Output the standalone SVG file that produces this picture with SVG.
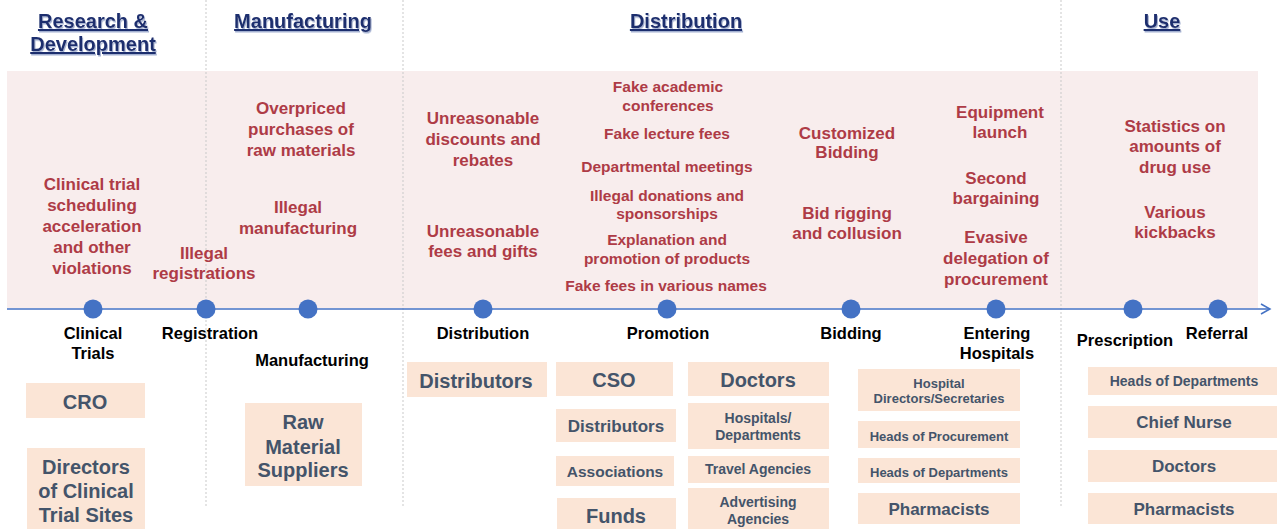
<svg xmlns="http://www.w3.org/2000/svg" width="1277" height="529" viewBox="0 0 1277 529">
  <defs>
    <filter id="hdrShadow" x="-10%" y="-30%" width="120%" height="160%">
      <feDropShadow dx="1" dy="1.5" stdDeviation="0.7" flood-color="#8c9cc4" flood-opacity="0.8"/>
    </filter>
    <marker id="openArrow" markerWidth="12" markerHeight="12" refX="10" refY="6" orient="auto" markerUnits="userSpaceOnUse">
      <path d="M1,1 L10,6 L1,11" fill="none" stroke="#4472c4" stroke-width="1.5"/>
    </marker>
  </defs>
  <style>
    text { font-family: "Liberation Sans", Arial, sans-serif; font-weight: bold; text-anchor: middle; }
    .hdr { font-size: 20px; fill: #1f2f6e; text-decoration: underline; filter: url(#hdrShadow); }
    .risk { font-size: 17px; fill: #ae3b46; }
    .risk-s { font-size: 15.5px; fill: #ae3b46; }
    .stage { font-size: 16.5px; fill: #000000; }
    .dot { fill: #4472c4; }
    .box rect { fill: #fbe5d6; }
    .box text { fill: #44546a; }
    .b20 { font-size: 20px; }
    .b17 { font-size: 17px; }
    .b15 { font-size: 15.5px; }
    .b14 { font-size: 14px; }
    .b13 { font-size: 13px; }
    .divider { stroke: #c9c9c9; stroke-width: 1; stroke-dasharray: 2 2; }
  </style>

  <rect width="1277" height="529" fill="#ffffff"/>

  <!-- risk band behind the timeline -->
  <rect x="7" y="71" width="1251" height="237" fill="#f8eded"/>

  <!-- phase dividers -->
  <g id="dividers">
    <line class="divider" x1="206" y1="0" x2="206" y2="508"/>
    <line class="divider" x1="403" y1="0" x2="403" y2="508"/>
    <line class="divider" x1="1061" y1="0" x2="1061" y2="508"/>
  </g>

  <!-- phase headings -->
  <g id="phase-rd"><text class="hdr" x="93" y="28">Research &amp;</text><text class="hdr" x="93" y="51">Development</text></g>
  <g id="phase-manufacturing"><text class="hdr" x="303" y="28">Manufacturing</text></g>
  <g id="phase-distribution"><text class="hdr" x="686" y="28">Distribution</text></g>
  <g id="phase-use"><text class="hdr" x="1162" y="28">Use</text></g>

  <!-- timeline -->
  <g id="connectors">
    <line x1="7" y1="309" x2="1270" y2="309" stroke="#4472c4" stroke-width="1.5" marker-end="url(#openArrow)"/>
  </g>

  <!-- risks -->
  <g id="risk-clinical">
    <text class="risk" x="92" y="190">Clinical trial</text>
    <text class="risk" x="92" y="211">scheduling</text>
    <text class="risk" x="92" y="232">acceleration</text>
    <text class="risk" x="92" y="253">and other</text>
    <text class="risk" x="92" y="274">violations</text>
  </g>
  <g id="risk-registration">
    <text class="risk" x="204" y="259">Illegal</text>
    <text class="risk" x="204" y="279">registrations</text>
  </g>
  <g id="risk-manufacturing">
    <text class="risk" x="301" y="114">Overpriced</text>
    <text class="risk" x="301" y="135">purchases of</text>
    <text class="risk" x="301" y="156">raw materials</text>
    <text class="risk" x="298" y="213">Illegal</text>
    <text class="risk" x="298" y="234">manufacturing</text>
  </g>
  <g id="risk-distribution">
    <text class="risk" x="483" y="124">Unreasonable</text>
    <text class="risk" x="483" y="145">discounts and</text>
    <text class="risk" x="483" y="166">rebates</text>
    <text class="risk" x="483" y="237">Unreasonable</text>
    <text class="risk" x="483" y="257">fees and gifts</text>
  </g>
  <g id="risk-promotion">
    <text class="risk-s" x="668" y="92">Fake academic</text>
    <text class="risk-s" x="668" y="111">conferences</text>
    <text class="risk-s" x="667" y="139">Fake lecture fees</text>
    <text class="risk-s" x="667" y="172">Departmental meetings</text>
    <text class="risk-s" x="667" y="201">Illegal donations and</text>
    <text class="risk-s" x="667" y="219">sponsorships</text>
    <text class="risk-s" x="667" y="245">Explanation and</text>
    <text class="risk-s" x="667" y="264">promotion of products</text>
    <text class="risk-s" x="666" y="291">Fake fees in various names</text>
  </g>
  <g id="risk-bidding">
    <text class="risk" x="847" y="139">Customized</text>
    <text class="risk" x="847" y="158">Bidding</text>
    <text class="risk" x="847" y="219">Bid rigging</text>
    <text class="risk" x="847" y="239">and collusion</text>
  </g>
  <g id="risk-hospitals">
    <text class="risk" x="1000" y="118">Equipment</text>
    <text class="risk" x="1000" y="138">launch</text>
    <text class="risk" x="996" y="184">Second</text>
    <text class="risk" x="996" y="204">bargaining</text>
    <text class="risk" x="996" y="243">Evasive</text>
    <text class="risk" x="996" y="264">delegation of</text>
    <text class="risk" x="996" y="285">procurement</text>
  </g>
  <g id="risk-use">
    <text class="risk" x="1175" y="132">Statistics on</text>
    <text class="risk" x="1175" y="152">amounts of</text>
    <text class="risk" x="1175" y="173">drug use</text>
    <text class="risk" x="1175" y="218">Various</text>
    <text class="risk" x="1175" y="238">kickbacks</text>
  </g>

  <!-- stages on the timeline -->
  <g id="stage-clinical-trials"><circle class="dot" cx="93" cy="309" r="9.5"/><text class="stage" x="93" y="339">Clinical</text><text class="stage" x="93" y="359">Trials</text></g>
  <g id="stage-registration"><circle class="dot" cx="206" cy="309" r="9.5"/><text class="stage" x="210" y="339">Registration</text></g>
  <g id="stage-manufacturing"><circle class="dot" cx="308" cy="309" r="9.5"/><text class="stage" x="312" y="366">Manufacturing</text></g>
  <g id="stage-distribution"><circle class="dot" cx="483" cy="309" r="9.5"/><text class="stage" x="483" y="339">Distribution</text></g>
  <g id="stage-promotion"><circle class="dot" cx="667" cy="309" r="9.5"/><text class="stage" x="668" y="339">Promotion</text></g>
  <g id="stage-bidding"><circle class="dot" cx="851" cy="309" r="9.5"/><text class="stage" x="851" y="339">Bidding</text></g>
  <g id="stage-entering-hospitals"><circle class="dot" cx="996" cy="309" r="9.5"/><text class="stage" x="997" y="339">Entering</text><text class="stage" x="997" y="359">Hospitals</text></g>
  <g id="stage-prescription"><circle class="dot" cx="1133" cy="309" r="9.5"/><text class="stage" x="1125" y="346">Prescription</text></g>
  <g id="stage-referral"><circle class="dot" cx="1218" cy="309" r="9.5"/><text class="stage" x="1217" y="339">Referral</text></g>

  <!-- actors -->
  <g id="actor-cro" class="box"><rect x="26" y="383" width="119" height="35"/><text class="b20" x="85" y="409">CRO</text></g>
  <g id="actor-site-directors" class="box"><rect x="27" y="448" width="118" height="81"/>
    <text class="b20" x="86" y="474">Directors</text><text class="b20" x="86" y="498">of Clinical</text><text class="b20" x="86" y="522">Trial Sites</text></g>
  <g id="actor-raw-suppliers" class="box"><rect x="245" y="403" width="117" height="83"/>
    <text class="b20" x="303" y="429">Raw</text><text class="b20" x="303" y="454">Material</text><text class="b20" x="303" y="477">Suppliers</text></g>
  <g id="actor-distributors" class="box"><rect x="407" y="362" width="140" height="35"/><text class="b20" x="476" y="388">Distributors</text></g>

  <g id="actor-cso" class="box"><rect x="556" y="362" width="117" height="34"/><text class="b20" x="614" y="387">CSO</text></g>
  <g id="actor-promo-distributors" class="box"><rect x="556" y="409" width="120" height="33"/><text class="b17" x="616" y="432">Distributors</text></g>
  <g id="actor-associations" class="box"><rect x="556" y="456" width="118" height="30"/><text class="b15" x="615" y="477">Associations</text></g>
  <g id="actor-funds" class="box"><rect x="557" y="498" width="119" height="31"/><text class="b20" x="616" y="523">Funds</text></g>
  <g id="actor-doctors" class="box"><rect x="688" y="362" width="141" height="34"/><text class="b20" x="758" y="387">Doctors</text></g>
  <g id="actor-hospital-departments" class="box"><rect x="688" y="403" width="141" height="46"/>
    <text class="b14" x="758" y="423">Hospitals/</text><text class="b14" x="758" y="440">Departments</text></g>
  <g id="actor-travel" class="box"><rect x="688" y="456" width="141" height="27"/><text class="b14" x="758" y="474">Travel Agencies</text></g>
  <g id="actor-advertising" class="box"><rect x="688" y="488" width="141" height="41"/>
    <text class="b14" x="758" y="507">Advertising</text><text class="b14" x="758" y="524">Agencies</text></g>

  <g id="actor-hospital-directors" class="box"><rect x="858" y="369" width="162" height="42"/>
    <text class="b13" x="939" y="388">Hospital</text><text class="b13" x="939" y="403">Directors/Secretaries</text></g>
  <g id="actor-procurement-heads" class="box"><rect x="858" y="421" width="162" height="27"/><text class="b13" x="939" y="441">Heads of Procurement</text></g>
  <g id="actor-hospital-dept-heads" class="box"><rect x="858" y="458" width="162" height="25"/><text class="b13" x="939" y="477">Heads of Departments</text></g>
  <g id="actor-hospital-pharmacists" class="box"><rect x="858" y="493" width="162" height="31"/><text class="b17" x="939" y="515">Pharmacists</text></g>

  <g id="actor-use-dept-heads" class="box"><rect x="1088" y="367" width="190" height="28"/><text class="b14" x="1184" y="386">Heads of Departments</text></g>
  <g id="actor-chief-nurse" class="box"><rect x="1088" y="406" width="190" height="32"/><text class="b17" x="1184" y="428">Chief Nurse</text></g>
  <g id="actor-use-doctors" class="box"><rect x="1088" y="450" width="190" height="32"/><text class="b17" x="1184" y="472">Doctors</text></g>
  <g id="actor-use-pharmacists" class="box"><rect x="1088" y="493" width="190" height="31"/><text class="b17" x="1184" y="515">Pharmacists</text></g>
</svg>
